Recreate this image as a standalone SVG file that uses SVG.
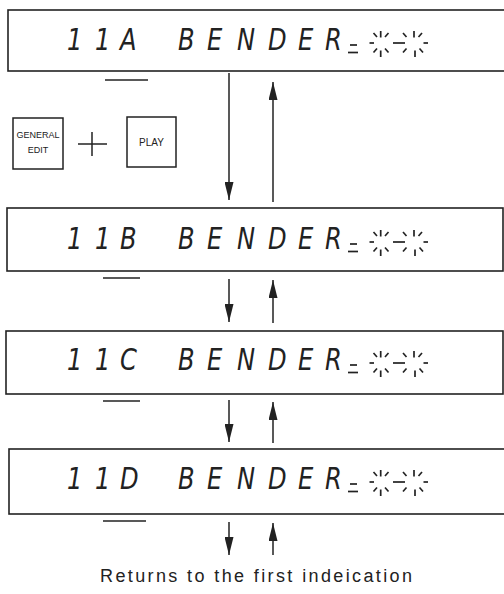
<svg xmlns="http://www.w3.org/2000/svg" width="504" height="594" viewBox="0 0 504 594">
<style>
.box{fill:none;stroke:#222;stroke-width:1.6}
.lcd{font-family:"DejaVu Sans",sans-serif;font-weight:200;font-style:italic;font-size:31px;fill:#222}
.ul{stroke:#222;stroke-width:1.6}
.seg{stroke:#222;stroke-width:1.7;fill:none}
.ln{stroke:#222;stroke-width:1.5;fill:none}
.btn{fill:none;stroke:#222;stroke-width:1.5}
.bt{font-family:"Liberation Sans",Arial,sans-serif;fill:#222;text-anchor:middle}
.cap{font-family:"Liberation Sans",Arial,sans-serif;font-size:18px;fill:#222}
</style>
<defs>
<marker id="ah" viewBox="0 0 18 9" refX="18" refY="4.5" markerWidth="18" markerHeight="9" markerUnits="userSpaceOnUse" orient="auto">
<path d="M0,0 L18,4.5 L0,9 Z" fill="#222"/>
</marker>
<g id="flash" class="seg">
<line x1="350" y1="45" x2="357" y2="45"/>
<line x1="348" y1="52.5" x2="358" y2="52.5"/>
<line x1="380.7" y1="31" x2="380.7" y2="37.5"/>
<line x1="373.5" y1="33" x2="377" y2="37"/>
<line x1="388.5" y1="33" x2="385" y2="37"/>
<line x1="369.5" y1="43" x2="374" y2="43"/>
<line x1="377" y1="48.5" x2="373.5" y2="52.5"/>
<line x1="380.7" y1="50.5" x2="380.7" y2="57"/>
<line x1="385" y1="48.5" x2="388.5" y2="52.5"/>
<line x1="393" y1="43" x2="405" y2="43"/>
<line x1="414" y1="31" x2="414" y2="37.5"/>
<line x1="403" y1="33" x2="406.5" y2="37"/>
<line x1="422" y1="33" x2="418.5" y2="37"/>
<line x1="423.5" y1="43" x2="428" y2="43"/>
<line x1="406.5" y1="48.5" x2="403" y2="52.5"/>
<line x1="415" y1="50.5" x2="415" y2="57"/>
<line x1="419.5" y1="48.5" x2="423" y2="52.5"/>
</g>
</defs>

<g id="display-11A">
<rect class="box" x="8" y="10" width="500" height="61"/>
<g transform="scale(0.78 1)">
<text class="lcd" x="85.9 121.8 153.8" y="50">11A</text>
<text class="lcd" x="228.2 265.4 303.8 343.6 382.1 416.7" y="50">BENDER</text>
</g>
<use href="#flash"/>
<line class="ul" x1="105" y1="80" x2="148" y2="80"/>
</g>

<g id="key-general-edit">
<rect class="btn" x="13" y="118" width="50" height="51"/>
<text class="bt" x="38" y="138" font-size="9">GENERAL</text>
<text class="bt" x="38" y="153" font-size="9">EDIT</text>
</g>
<g id="plus">
<line class="ln" x1="78" y1="144" x2="107" y2="144"/>
<line class="ln" x1="92" y1="132" x2="92" y2="156"/>
</g>
<g id="key-play">
<rect class="btn" x="127" y="117" width="49" height="50"/>
<text class="bt" x="151.5" y="146" font-size="10">PLAY</text>
</g>

<g id="display-11B">
<rect class="box" x="7" y="208" width="496" height="63"/>
<g transform="scale(0.78 1)">
<text class="lcd" x="85.9 121.8 153.8" y="249">11B</text>
<text class="lcd" x="228.2 265.4 303.8 343.6 382.1 416.7" y="249">BENDER</text>
</g>
<use href="#flash" transform="translate(0,199)"/>
<line class="ul" x1="103" y1="278" x2="140" y2="278"/>
</g>

<g id="display-11C">
<rect class="box" x="6" y="331" width="497" height="63"/>
<g transform="scale(0.78 1)">
<text class="lcd" x="85.9 121.8 153.8" y="370">11C</text>
<text class="lcd" x="228.2 265.4 303.8 343.6 382.1 416.7" y="370">BENDER</text>
</g>
<use href="#flash" transform="translate(0,320)"/>
<line class="ul" x1="103" y1="401" x2="140" y2="401"/>
</g>

<g id="display-11D">
<rect class="box" x="9" y="449" width="500" height="65"/>
<g transform="scale(0.78 1)">
<text class="lcd" x="85.9 121.8 153.8" y="489">11D</text>
<text class="lcd" x="228.2 265.4 303.8 343.6 382.1 416.7" y="489">BENDER</text>
</g>
<use href="#flash" transform="translate(0,439)"/>
<line class="ul" x1="103" y1="521" x2="146" y2="521"/>
</g>

<g id="connectors">
<line class="ln" x1="229" y1="73" x2="229" y2="200" marker-end="url(#ah)"/>
<line class="ln" x1="273" y1="202" x2="273" y2="82" marker-end="url(#ah)"/>
<line class="ln" x1="229" y1="279" x2="229" y2="322" marker-end="url(#ah)"/>
<line class="ln" x1="273" y1="323" x2="273" y2="280" marker-end="url(#ah)"/>
<line class="ln" x1="229" y1="400" x2="229" y2="442" marker-end="url(#ah)"/>
<line class="ln" x1="273" y1="443" x2="273" y2="402" marker-end="url(#ah)"/>
<line class="ln" x1="229" y1="522" x2="229" y2="555" marker-end="url(#ah)"/>
<line class="ln" x1="273" y1="555" x2="273" y2="523" marker-end="url(#ah)"/>
</g>

<text class="cap" x="100" y="582" textLength="312" lengthAdjust="spacing">Returns to the first indeication</text>
</svg>
